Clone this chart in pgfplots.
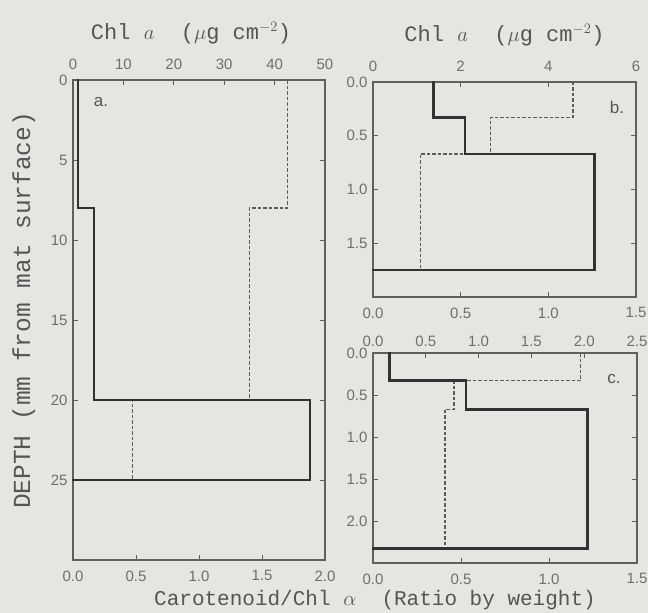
\documentclass[border=0pt]{standalone}
\usepackage{fontspec}
\setmainfont{Liberation Mono}
\setsansfont{Liberation Sans}
\usepackage{pgfplots}
\pgfplotsset{compat=1.18}
\usetikzlibrary{backgrounds}
\definecolor{bg}{RGB}{229,230,226}
\definecolor{ink}{RGB}{50,50,50}
\definecolor{frm}{RGB}{95,95,95}
\definecolor{txt}{RGB}{110,110,110}
\definecolor{lbl}{RGB}{85,85,85}
\tikzset{plab/.style={font=\sffamily\fontsize{17}{17}\selectfont, text=lbl}}
\pgfplotsset{
  panel/.style={scale only axis, y dir=reverse, tick align=inside,
    major tick length=5pt, clip=false,
    axis line style={frm, line width=1.4pt},
    tick style={frm, line width=1pt},
    tick label style={font=\sffamily\fontsize{15}{15}\selectfont, text=txt},
    xticklabel shift=7pt, yticklabel shift=2pt,
    /pgf/number format/assume math mode=true},
  fix1/.style={/pgf/number format/.cd, fixed, fixed zerofill, precision=1},
  topaxis/.style={axis x line*=top, axis y line=none,
    xlabel style={font=\fontsize{22}{22}\selectfont, text=lbl, yshift=8pt}},
  solidline/.style={ink, line width=2.6pt, line join=miter, line cap=rect, no markers},
  dashline/.style={ink!80, line width=1.4pt, dash pattern=on 3.5pt off 2pt, no markers},
}
\begin{document}
\begin{tikzpicture}
\useasboundingbox (0,0) rectangle (648pt,613pt);
% ---------- panel a ----------
\begin{axis}[panel, at={(73pt,53pt)}, anchor=south west, width=252pt, height=480pt,
  xmin=0, xmax=2, ymin=0, ymax=30, xtick={0,0.5,1,1.5,2}, xtick pos=bottom,
  xticklabel style={fix1}, ytick={0,5,10,15,20,25},
  ylabel={DEPTH (mm from mat surface)},
  every axis y label/.append style={at={(axis description cs:-0.195,0.52)}, anchor=center,
    font=\fontsize{24.5}{24.5}\selectfont, text=lbl}]
\addplot[dashline] coordinates {(1.70,0) (1.70,8) (1.40,8) (1.40,20) (0.47,20) (0.47,25)};
\node[plab] at (axis description cs:0.111,0.954) {a.};
\end{axis}
\begin{axis}[panel, topaxis, at={(73pt,53pt)}, anchor=south west, width=252pt, height=480pt,
  xmin=0, xmax=50, ymin=0, ymax=30, xtick={0,10,20,30,40,50},
  xlabel={Chl $a$\ \ ($\mu$g cm$^{-2}$)},
  xlabel style={xshift=-8pt}]
\addplot[solidline] coordinates {(1.0,0) (1.0,8) (4.2,8) (4.2,20) (47,20) (47,25) (0,25)};
\end{axis}
% ---------- panel b ----------
\begin{axis}[panel, at={(373pt,316pt)}, anchor=south west, width=263pt, height=215pt,
  xmin=0, xmax=1.5, ymin=0, ymax=2, xtick={0,0.5,1,1.5}, xtick pos=bottom,
  xticklabel style={fix1}, ytick={0,0.5,1,1.5}, yticklabel style={fix1}]
\addplot[dashline] coordinates {(1.14,0) (1.14,0.33) (0.67,0.33) (0.67,0.67) (0.27,0.67) (0.27,1.75)};
\node[plab] at (axis description cs:0.928,0.884) {b.};
\end{axis}
\begin{axis}[panel, topaxis, at={(373pt,316pt)}, anchor=south west, width=263pt, height=215pt,
  xmin=0, xmax=6, ymin=0, ymax=2, xtick={0,2,4,6},
  xlabel={Chl $a$\ \ ($\mu$g cm$^{-2}$)}]
\addplot[solidline] coordinates {(1.375,0) (1.375,0.33) (2.1,0.33) (2.1,0.67) (5.06,0.67) (5.06,1.75) (0,1.75)};
\end{axis}
% ---------- panel c ----------
\begin{axis}[panel, at={(373pt,50pt)}, anchor=south west, width=264pt, height=210pt,
  xmin=0, xmax=1.5, ymin=0, ymax=2.5, xtick={0,0.5,1,1.5}, xtick pos=bottom,
  xticklabel style={fix1}, ytick={0,0.5,1,1.5,2}, yticklabel style={fix1}]
\addplot[dashline] coordinates {(1.18,0) (1.18,0.33) (0.46,0.33) (0.46,0.67) (0.41,0.67) (0.41,2.33)};
\node[plab] at (axis description cs:0.913,0.876) {c.};
\end{axis}
\begin{axis}[panel, topaxis, at={(373pt,50pt)}, anchor=south west, width=264pt, height=210pt,
  xmin=0, xmax=2.5, ymin=0, ymax=2.5, xtick={0,0.5,1,1.5,2,2.5}, xticklabel style={fix1},
  xticklabel shift=3pt]
\addplot[solidline] coordinates {(0.157,0) (0.157,0.33) (0.88,0.33) (0.88,0.67) (2.03,0.67) (2.03,2.33) (0,2.33)};
\end{axis}
\node[font=\fontsize{21}{21}\selectfont, text=lbl] at (375pt,13pt) {Carotenoid/Chl $\alpha$\ \ (Ratio by weight)};
\begin{scope}[on background layer]
\fill[bg] (0,0) rectangle (648pt,613pt);
\end{scope}
\end{tikzpicture}
\end{document}
